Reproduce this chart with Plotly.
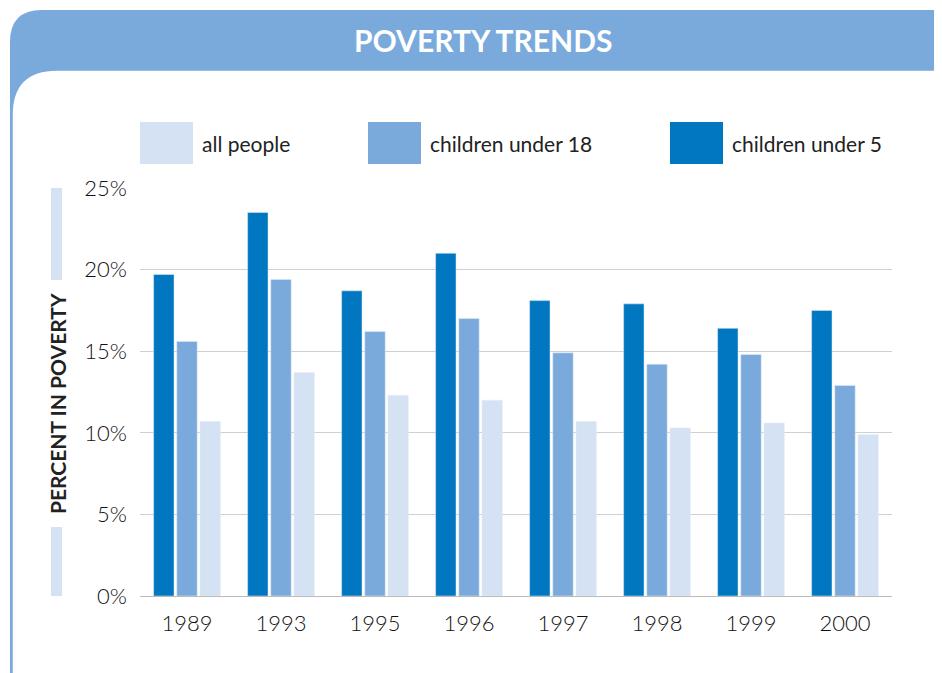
import plotly.graph_objects as go

years = ["1989", "1993", "1995", "1996", "1997", "1998", "1999", "2000"]
under5 = [19.7, 23.5, 18.7, 21.0, 18.1, 17.9, 16.4, 17.5]
under18 = [15.6, 19.4, 16.2, 17.0, 14.9, 14.2, 14.8, 12.9]
all_people = [10.7, 13.7, 12.3, 12.0, 10.7, 10.3, 10.6, 9.9]

DARK, MID, LIGHT = "#0077c0", "#7aaadc", "#d4e2f3"
W, H = 942, 673
OFF = 8  # page body margin
L, R, T, B = 140 - OFF, 50 + OFF, 188 - OFF, 77 + OFF
PW, PH = W - L - R, H - T - B


def px(x):
    return (x - OFF - L) / PW


def py(y):
    return (H - B - (y - OFF)) / PH


def rrect(x0, y0, x1, y1, r):
    return (f"M {px(x0+r)},{py(y0)} L {px(x1-r)},{py(y0)} Q {px(x1)},{py(y0)} {px(x1)},{py(y0+r)} "
            f"L {px(x1)},{py(y1-r)} Q {px(x1)},{py(y1)} {px(x1-r)},{py(y1)} "
            f"L {px(x0+r)},{py(y1)} Q {px(x0)},{py(y1)} {px(x0)},{py(y1-r)} "
            f"L {px(x0)},{py(y0+r)} Q {px(x0)},{py(y0)} {px(x0+r)},{py(y0)} Z")


fig = go.Figure()
fig.add_bar(x=years, y=under5, marker_color=DARK, name="children under 5")
fig.add_bar(x=years, y=under18, marker_color=MID, name="children under 18")
fig.add_bar(x=years, y=all_people, marker_color=LIGHT, name="all people")

P = dict(xref="paper", yref="paper")
shapes = [
    dict(type="path", path=rrect(10, 10, 990, 720, 32), fillcolor=MID, line_width=0, layer="below", **P),
    dict(type="path", path=rrect(12, 70, 975, 720, 45), fillcolor="white", line=dict(color=MID, width=1.5), layer="below", **P),
    dict(type="rect", x0=px(51), x1=px(62), y0=py(188), y1=py(280), fillcolor=LIGHT, line_width=0, **P),
    dict(type="rect", x0=px(51), x1=px(62), y0=py(527), y1=py(596), fillcolor=LIGHT, line_width=0, **P),
]
annotations = [
    dict(text="<b>POVERTY TRENDS</b>", x=px(483), y=py(40), yanchor="middle", showarrow=False,
         font=dict(size=30, color="white", family="Lato"), **P),
    dict(text="<b>PERCENT IN POVERTY</b>", x=px(57), y=py(404), xanchor="center", yanchor="middle",
         textangle=-90, showarrow=False, font=dict(size=21, color="#222", family="Lato"), **P),
]
for x0, color, label in [(140, LIGHT, "all people"), (368, MID, "children under 18"), (670, DARK, "children under 5")]:
    shapes.append(dict(type="rect", x0=px(x0), x1=px(x0 + 53), y0=py(122), y1=py(164), fillcolor=color, line_width=0, **P))
    annotations.append(dict(text=label, x=px(x0 + 60), y=py(144), xanchor="left", yanchor="middle", showarrow=False,
                            font=dict(size=21, color="#222", family="Lato"), **P))

fig.update_layout(
    width=W, height=H, margin=dict(l=L, r=R, t=T, b=B, autoexpand=False),
    paper_bgcolor="white", plot_bgcolor="white",
    barmode="group", bargap=0.26, bargroupgap=0.12, showlegend=False,
    shapes=shapes, annotations=annotations,
    font=dict(family="Lato", color="#222"),
    xaxis=dict(tickfont=dict(size=22, weight=300, color="#111"), showline=True, linecolor="#bbb", ticks="",
               automargin=False, ticklabelstandoff=8),
    yaxis=dict(range=[0, 25], dtick=5, ticksuffix="%", tickfont=dict(size=22, weight=300, color="#111"),
               automargin=False, gridcolor="#d0d0d0", zeroline=False, ticklabelstandoff=12),
)
fig.write_html("out.html")
